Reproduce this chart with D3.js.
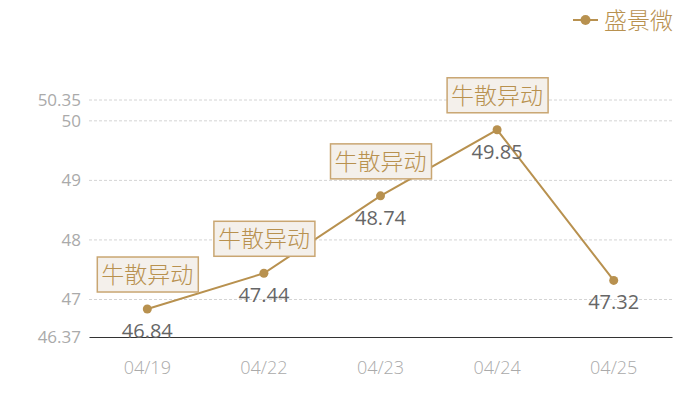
<!DOCTYPE html>
<html>
<head>
<meta charset="utf-8">
<script src="https://cdn.jsdelivr.net/npm/d3@7"></script>
<style>
  body { margin: 0; background: #fff; }
  svg { font-family: "Noto Sans CJK SC", "Noto Sans", sans-serif; }
</style>
</head>
<body>
<svg width="700" height="400"></svg>
<script>
// data
const dates = ["04/19", "04/22", "04/23", "04/24", "04/25"];
const prices = [46.84, 47.44, 48.74, 49.85, 47.32];
const flags = ["牛散异动", "牛散异动", "牛散异动", "牛散异动", null];
const yTicks = [46.37, 47, 48, 49, 50, 50.35];
const seriesName = "盛景微";

const gold = "#b8914f";
const numFont = "'Open Sans', 'Noto Sans', sans-serif";
const svg = d3.select("svg");
const margin = {left: 89, right: 28, top: 100, bottom: 63};
const width = 700, height = 400;

const x = d3.scaleBand()
  .domain(dates)
  .range([margin.left, width - margin.right]);
const y = d3.scaleLinear()
  .domain([46.37, 50.35])
  .range([height - margin.bottom, margin.top]);

// grid
svg.append("g")
  .selectAll("line")
  .data(yTicks.filter(t => t !== 46.37))
  .enter().append("line")
    .attr("x1", margin.left).attr("x2", width - margin.right)
    .attr("y1", d => y(d)).attr("y2", d => y(d))
    .attr("stroke", "#d4d4d4")
    .attr("stroke-dasharray", "3,2");

// y axis labels
const yAxis = svg.append("g")
  .attr("transform", `translate(${margin.left},0)`)
  .call(d3.axisLeft(y).tickValues(yTicks).tickSize(0).tickPadding(8).tickFormat(d => d));
yAxis.select(".domain").remove();
yAxis.selectAll("text")
  .attr("fill", "#aaa")
  .attr("font-size", 17)
  .style("font-family", numFont);

// x axis
const xAxis = svg.append("g")
  .attr("transform", `translate(0,${y(46.37)})`)
  .call(d3.axisBottom(x).tickSize(0).tickPadding(24));
xAxis.select(".domain").attr("stroke", "#333");
xAxis.selectAll("text")
  .attr("fill", "#aaa")
  .attr("font-size", 18)
  .attr("font-weight", 300)
  .style("font-family", numFont);

const cx = d => x(d) + x.bandwidth() / 2;
const pts = dates.map((d, i) => ({date: d, v: prices[i], flag: flags[i]}));

// line
svg.append("path")
  .datum(pts)
  .attr("fill", "none")
  .attr("stroke", gold)
  .attr("stroke-width", 2)
  .attr("d", d3.line().x(d => cx(d.date)).y(d => y(d.v)));

svg.selectAll(".pt")
  .data(pts)
  .enter().append("circle")
    .attr("class", "pt")
    .attr("cx", d => cx(d.date))
    .attr("cy", d => y(d.v))
    .attr("r", 4.5)
    .attr("fill", gold);

// value labels
svg.selectAll(".val")
  .data(pts)
  .enter().append("text")
    .attr("class", "val")
    .attr("x", d => cx(d.date))
    .attr("y", d => y(d.v) + 29)
    .attr("text-anchor", "middle")
    .attr("fill", "#666")
    .attr("font-size", 20)
    .style("font-family", numFont)
    .text(d => d.v.toFixed(2));

// flag boxes
const fl = svg.selectAll(".flag")
  .data(pts.filter(d => d.flag))
  .enter().append("g")
    .attr("class", "flag")
    .attr("transform", d => `translate(${cx(d.date)},${y(d.v) - 17})`);
fl.append("rect")
  .attr("x", -50).attr("y", -35)
  .attr("width", 101).attr("height", 35)
  .attr("fill", "#f4f0eb")
  .attr("stroke", "#c9a672")
  .attr("stroke-width", 1.5);
fl.append("text")
  .attr("x", 0).attr("y", -9)
  .attr("text-anchor", "middle")
  .attr("fill", "#b8914f")
  .attr("font-size", 23)
  .attr("font-weight", 300)
  .text(d => d.flag);

// legend
const lg = svg.append("g").attr("transform", "translate(573,20)");
lg.append("line").attr("x1", 0).attr("x2", 25).attr("stroke", gold).attr("stroke-width", 2);
lg.append("circle").attr("cx", 12.5).attr("r", 5).attr("fill", gold);
lg.append("text")
  .attr("x", 31).attr("y", 9)
  .attr("fill", gold)
  .attr("font-size", 23)
  .attr("font-weight", 300)
  .text(seriesName);
</script>
</body>
</html>
